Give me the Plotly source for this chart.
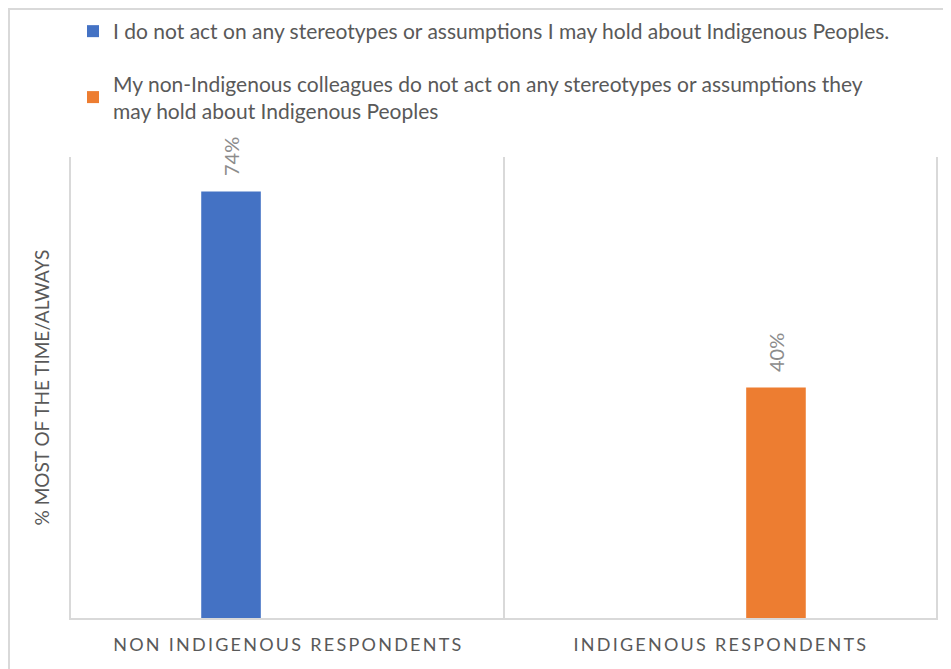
import plotly.graph_objects as go

categories = ["NON INDIGENOUS RESPONDENTS", "INDIGENOUS RESPONDENTS"]
series_names = [
    "I do not act on any stereotypes or assumptions I may hold about Indigenous Peoples.",
    "My non-Indigenous colleagues do not act on any stereotypes or assumptions they<br>may hold about Indigenous Peoples",
]
series1_values = [74, None]
series2_values = [None, 40]
colors = ["#4472C4", "#ED7D31"]
y_title = "% MOST OF THE TIME/ALWAYS"

FONT = "Lato"
W, H = 943, 661
L, R, T, B = 63, 15, 149, 51
PW, PH = W - L - R, H - T - B


def spaced(s):
    return "\u2009".join(list(s))


fig = go.Figure()
for i, (name, vals) in enumerate(zip(series_names, [series1_values, series2_values])):
    fig.add_trace(go.Bar(
        x=categories, y=vals, name=name,
        marker=dict(color=colors[i], line=dict(width=0)),
        texttemplate="\u2002\u2009%{y}%", textposition="outside", textangle=-90,
        textfont=dict(family=FONT, size=20, color="#8C8C8C"),
        cliponaxis=False,
        legendgroup=f"g{i}",
    ))

fig.update_layout(
    width=W, height=H,
    margin=dict(l=L, r=R, t=T, b=B, autoexpand=False),
    paper_bgcolor="white", plot_bgcolor="white",
    barmode="group", bargap=0.48, bargroupgap=0.47,
    font=dict(family=FONT, color="#595959"),
    showlegend=True,
    legend=dict(
        x=2 / PW, y=1 + (T - 3) / PH, xanchor="left", yanchor="top",
        orientation="v", traceorder="grouped", tracegroupgap=22,
        font=dict(family=FONT, size=21, color="#595959"),
        bgcolor="rgba(0,0,0,0)",
    ),
    xaxis=dict(
        type="category", tickson="boundaries", showgrid=True,
        gridcolor="#D9D9D9", gridwidth=1.5,
        showline=True, linecolor="#D9D9D9", linewidth=1.5,
        ticks="", tickvals=categories, ticktext=[spaced(c) for c in categories],
        tickfont=dict(family=FONT, size=18, color="#595959"),
        ticklabelstandoff=10,
        range=[-0.5, 1.5], zeroline=False,
    ),
    yaxis=dict(
        range=[0, 80], showticklabels=False, showgrid=False, zeroline=False,
        ticks="", showline=True, mirror=True, linecolor="#D9D9D9", linewidth=1.5,
        title=dict(text=y_title, font=dict(family=FONT, size=19, color="#595959")),
    ),
    shapes=[dict(
        type="rect", xref="paper", yref="paper",
        x0=-(L - 1) / PW, x1=1.2, y0=-0.2, y1=1 + (T - 1) / PH,
        line=dict(color="#D9D9D9", width=2), fillcolor="rgba(0,0,0,0)", layer="below",
    )],
)

fig.write_html("out.html")
